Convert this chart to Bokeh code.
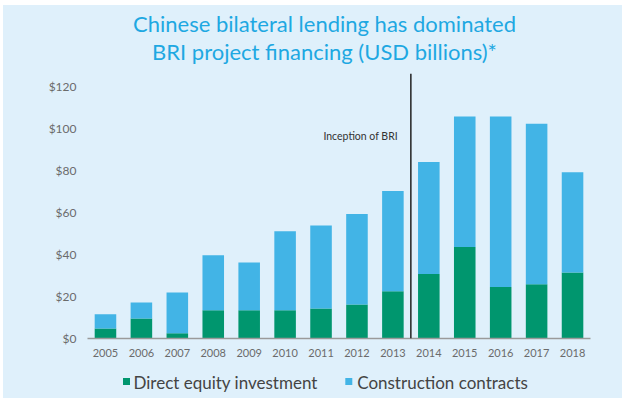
from bokeh.plotting import figure
from bokeh.models import (FactorRange, Range1d, FixedTicker, Span, Label, Spacer,
                          PrintfTickFormatter, ColumnDataSource)
from bokeh.layouts import column, row
from bokeh.core.properties import value
from bokeh.embed import file_html
from bokeh.resources import INLINE

years = ["2005", "2006", "2007", "2008", "2009", "2010", "2011",
         "2012", "2013", "2014", "2015", "2016", "2017", "2018"]
equity = [4.8, 9.5, 2.5, 13.4, 13.4, 13.4, 14.3, 16.2, 22.5, 30.7, 43.5, 24.5, 25.8, 31.4]
construction = [6.7, 7.6, 19.4, 26.2, 22.7, 37.6, 39.4, 43.0, 47.6, 53.2, 62.1, 81.1, 76.3, 47.6]
y_ticks = [0, 20, 40, 60, 80, 100, 120]
series_names = ["Direct equity investment", "Construction contracts"]
title_lines = ["Chinese bilateral lending has dominated", "BRI project financing (USD billions)*"]
annotation_text = "Inception of BRI"

BG = "#dff0fb"
GREEN = "#00966e"
BLUE = "#42b4e6"
TITLE_C = "#1ea8e2"
TICK_C = "#6b6b6b"
FONT = "Lato"
W = 619
LB, RB = 84, 32


def style(f):
    f.outline_line_color = None
    f.xgrid.grid_line_color = None
    f.ygrid.grid_line_color = None


def blank(height):
    f = figure(width=W, height=height, x_range=Range1d(LB, W - RB), y_range=Range1d(0, height),
               x_axis_type=None, y_axis_type=None, output_backend="svg", toolbar_location=None,
               background_fill_color=None, border_fill_color=None,
               min_border_left=LB, min_border_right=RB,
               min_border_top=0, min_border_bottom=0)
    style(f)
    return f


# ---- title panel
top = blank(68)
top.text(x=[321, 321], y=[50, 22], text=title_lines, text_align="center",
         text_baseline="alphabetic", text_font=value(FONT), text_font_size="22px",
         text_color=TITLE_C)

# ---- main chart
src = ColumnDataSource(dict(years=years, equity=equity, construction=construction))

p = figure(x_range=FactorRange(*years, range_padding=0), y_range=Range1d(0, 126),
           width=W, height=293,
           output_backend="svg", toolbar_location=None,
           background_fill_color=None, border_fill_color=None,
           min_border_left=LB, min_border_right=RB, min_border_top=0, min_border_bottom=28)
style(p)

rs = p.vbar_stack(["equity", "construction"], x="years", width=0.6, source=src,
                  color=[GREEN, BLUE], line_color=None)

p.yaxis.ticker = FixedTicker(ticks=y_ticks)
p.yaxis.formatter = PrintfTickFormatter(format="$%d")
p.yaxis.axis_line_color = None
p.yaxis.major_tick_line_color = None
p.yaxis.minor_tick_line_color = None
p.yaxis.major_label_standoff = 5
p.yaxis.major_label_text_font = FONT
p.yaxis.major_label_text_font_size = "12px"
p.yaxis.major_label_text_color = TICK_C

p.xaxis.axis_line_color = "#9a9a9a"
p.xaxis.axis_line_width = 1.5
p.xaxis.major_tick_line_color = None
p.xaxis.minor_tick_line_color = None
p.xaxis.major_label_standoff = 4
p.xaxis.major_label_text_font = FONT
p.xaxis.major_label_text_font_size = "11px"
p.xaxis.major_label_text_color = TICK_C

p.add_layout(Span(location=9, dimension="height", line_color="#222222", line_width=1.5))
p.add_layout(Label(x=9, y=96.5, x_offset=-13, text=annotation_text, text_align="right",
                   text_baseline="middle", text_font=FONT, text_font_size="10.5px",
                   text_color="#333333"))

# ---- legend panel
leg = blank(32)
leg.rect(x=[123, 345.3], y=[17, 17], width=7, height=7, color=[GREEN, BLUE], line_color=None)
leg.text(x=[130, 353.7], y=[16.3, 16.3], text=series_names, text_align="left",
         text_baseline="middle", text_font=value(FONT), text_font_size="17px",
         text_color="#444444")

panel = column(top, p, leg, spacing=0, styles={"background-color": BG})
layout = row(Spacer(width=3), column(Spacer(height=5), panel, spacing=0), spacing=0)

open("out.html", "w").write(file_html(layout, INLINE))
